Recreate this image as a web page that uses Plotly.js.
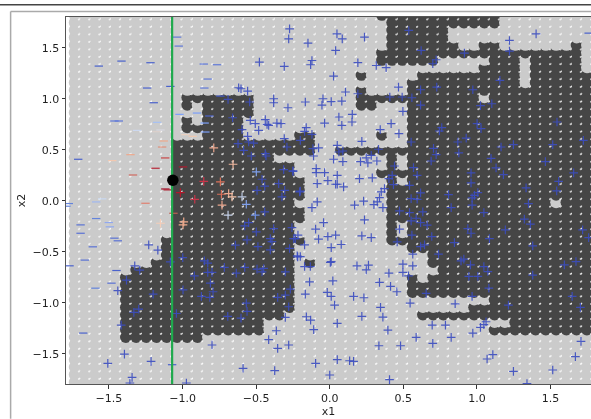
<!DOCTYPE html>
<html><head><meta charset="utf-8">
<script src="https://cdn.plot.ly/plotly-3.0.1.min.js"></script>
<style>html,body{margin:0;padding:0;background:#fff}#c{width:591px;height:419px;filter:blur(0.35px)}</style></head>
<body><div id="c"></div>
<script>
const gridX=[-1.733,-1.663,-1.594,-1.524,-1.455,-1.385,-1.315,-1.246,-1.176,-1.107,-1.037,-0.968,-0.898,-0.828,-0.759,-0.689,-0.620,-0.550,-0.480,-0.411,-0.341,-0.272,-0.202,-0.133,-0.063,0.007,0.076,0.146,0.216,0.285,0.355,0.424,0.494,0.564,0.633,0.703,0.772,0.842,0.912,0.981,1.051,1.120,1.190,1.260,1.329,1.399,1.468,1.538,1.608,1.677,1.747,1.816];
const gridY=[1.822,1.748,1.675,1.601,1.528,1.454,1.381,1.308,1.234,1.161,1.087,1.014,0.941,0.867,0.794,0.721,0.647,0.574,0.500,0.427,0.354,0.280,0.207,0.133,0.060,-0.013,-0.087,-0.160,-0.234,-0.307,-0.380,-0.454,-0.527,-0.600,-0.674,-0.747,-0.821,-0.894,-0.967,-1.041,-1.114,-1.188,-1.261,-1.334,-1.408,-1.481,-1.555,-1.628,-1.701,-1.775,-1.848];
// dark column runs for each gridY row
const darkRuns=[
[[30,41]],[[31,41]],[[31,36]],[[31,36]],[[31,37],[40,41],[49,49]],[[30,49]],[[30,35],[41,43],[45,49]],[[40,43],[45,49]],
[[28,28],[34,43],[45,51]],[[33,43],[45,51]],[[28,28],[33,51]],[[11,17],[28,39],[41,51]],[[11,11],[13,17],[28,29],[33,51]],
[[13,17],[33,51]],[[11,11],[13,16],[33,51]],[[11,16],[33,51]],[[13,16],[22,23],[30,30],[33,51]],[[10,23],[33,51]],[[10,23],[26,51]],
[[10,19],[31,31],[33,51]],[[10,21],[31,31],[33,51]],[[10,21],[30,51]],[[10,22],[31,31],[33,51]],[[10,22],[31,51]],[[10,22],[31,51]],
[[10,21],[31,46],[48,51]],[[10,22],[31,51]],[[10,22],[31,51]],[[10,21],[31,31],[33,51]],[[10,21],[31,31],[33,51]],[[9,22],[31,51]],
[[9,21],[33,51]],[[9,21],[35,51]],[[8,21],[23,23],[35,51]],[[6,21],[36,51]],[[5,21],[33,33],[35,51]],[[5,21],[33,51]],[[5,21],[33,51]],
[[5,21],[41,51]],[[5,21],[39,51]],[[5,20],[34,51]],[[5,18],[43,51]],[[5,18],[41,51]],[[5,12]]];
const dotX=[-1.705,-1.635,-1.566,-1.496,-1.427,-1.357,-1.287,-1.218,-1.148,-1.079,-1.009,-0.940,-0.870,-0.800,-0.731,-0.661,-0.592,-0.522,-0.452,-0.383,-0.313,-0.244,-0.174,-0.105,-0.035,0.035,0.104,0.174,0.244,0.313,0.383,0.452,0.522,0.592,0.661,0.731,0.800,0.870,0.940,1.009,1.079,1.148,1.218,1.288,1.357,1.427,1.496,1.566,1.636,1.705,1.775];
const dotY=[1.778,1.705,1.631,1.558,1.484,1.411,1.338,1.264,1.191,1.117,1.044,0.971,0.897,0.824,0.751,0.677,0.604,0.530,0.457,0.384,0.310,0.237,0.163,0.090,0.017,-0.057,-0.130,-0.204,-0.277,-0.350,-0.424,-0.497,-0.570,-0.644,-0.717,-0.791,-0.864,-0.937,-1.011,-1.084,-1.158,-1.231,-1.304,-1.378,-1.451,-1.525,-1.598,-1.671,-1.745];
const bluePlusX=[0.537,0.049,0.085,0.236,-0.148,1.402,1.221,0.04,1.221,0.621,0.915,-0.121,-0.13,0.191,0.316,0.383,0.7,0.723,0.026,1.156,0.467,0.617,0.727,0.972,0.107,0.191,0.408,0.492,0.558,-0.166,-0.046,-0.053,0.01,0.082,0.617,1.024,1.101,0.497,0.153,0.062,0.151,-0.035,0.082,0.417,0.343,0.47,1.544,1.001,1.028,0.761,0.745,-0.16,-0.171,-0.121,-0.2,0.218,0.927,0.553,0.87,1.723,1.515,1.248,1.164,0.705,0.051,-0.076,-0.114,0.331,0.877,0.723,0.062,0.089,-0.11,0.282,0.248,0.026,0.089,0.209,0.259,0.32,0.689,1.096,1.465,0.44,0.569,1.13,-0.092,-0.092,-0.035,-0.25,0.051,0.594,0.96,1.18,1.657,0.202,0.289,0.402,0.424,-0.013,-0.085,0.04,0.051,0.094,0.433,0.542,0.96,1.555,1.334,1.542,-0.2,0.372,0.35,0.617,0.807,1.006,0.983,0.967,0.553,0.594,0.338,-0.085,0.23,0.169,0.3,0.323,0.967,1.35,-0.121,0.361,0.825,
0.474,0.542,0.632,1.047,1.322,1.363,0.553,0.587,0.617,0.662,0.236,-0.042,-0.096,-0.013,0.04,0.218,0.282,0.474,0.558,0.693,0.938,0.96,1.193,1.085,1.718,1.759,-0.076,-0.234,-0.171,0.078,0.01,0.458,0.847,0.617,0.644,1.379,0.739,0.564,0.911,0.892,0.956,1.047,1.074,1.673,1.594,-0.221,-0.2,-0.171,-0.132,0.004,0.01,0.185,0.263,0.248,0.497,0.564,0.402,0.497,0.535,0.945,1.006,1.379,-0.137,0.021,0.338,0.413,0.456,1.081,-0.166,-0.017,0.01,0.162,0.232,0.655,0.967,1.647,0.033,0.345,0.546,0.852,1.214,1.703,-0.159,-0.13,0.218,0.361,0.051,-0.109,0.395,0.696,0.786,1.062,1.047,1.024,0.972,0.587,0.825,1.707,0.7,0.334,0.481,1.108,1.069,1.669,-0.096,0.051,0.135,0.162,1.248,1.515,0,0.406,1.34,
-0.273,-0.279,-0.478,-0.309,-0.619,-0.603,-0.558,-0.381,-0.381,-0.691,-0.544,-0.284,-0.66,-0.438,-0.54,-0.506,-0.426,-0.415,-0.359,-0.331,-0.596,-0.483,-0.558,-0.551,-0.517,-0.623,-0.309,-0.291,-0.585,-0.533,-0.438,-0.433,-0.313,-0.25,-0.46,-0.347,-0.442,-0.494,-0.306,-0.205,-0.325,
-0.442,-0.551,-0.578,-0.381,-0.257,-0.216,-0.499,-0.404,-0.393,-0.562,-0.245,-0.641,-0.488,-0.404,-0.273,-0.218,-1.23,-1.168,-0.999,-1.083,-0.852,-0.829,-1.325,-1.291,-0.716,-0.578,-0.494,-0.449,-0.46,-0.829,-0.8,-0.635,-0.302,-0.92,-1.381,-0.811,-1.44,-0.997,-0.793,-0.268,-0.302,-0.354,-1.2,-0.872,-0.815,-0.567,-0.279,-1.298,-1.331,-0.562,-1.042,-0.693,-0.603,-0.302,-1.417,-0.363,-0.415,-0.279,-0.8,-0.354,-1.395,-1.508,-1.214,-0.589,-0.374,-1.343,-1.358,-0.974];
const bluePlusY=[1.67,1.637,1.588,1.605,1.546,1.637,1.572,1.474,1.468,1.474,1.448,1.376,1.334,1.354,1.327,1.305,1.344,1.383,1.223,1.181,1.115,1.089,1.115,1.089,1.067,1.05,1.018,1.018,1.011,0.969,1.001,0.939,0.972,0.978,0.939,0.933,0.952,0.877,0.848,0.822,0.773,0.763,0.74,0.757,0.698,0.659,0.773,0.757,0.708,0.718,0.685,0.718,0.682,0.652,0.594,0.584,0.616,0.577,0.577,0.594,0.551,0.551,0.528,0.515,0.545,0.519,0.512,0.506,0.47,0.453,0.479,0.489,0.44,0.447,0.421,0.408,0.385,0.385,0.372,0.391,0.391,0.417,0.385,0.342,0.326,0.323,0.316,0.277,0.277,0.294,0.251,0.251,0.274,0.258,0.274,0.219,0.225,0.219,0.251,0.199,0.17,0.163,0.163,0.137,0.16,0.153,0.176,0.192,0.127,0.098,0.095,0.121,0.088,0.078,0.062,0.082,0.055,0.029,0.023,0.016,0.033,-0.01,-0.003,-0.042,-0.036,-0.01,-0.042,-0.026,-0.065,-0.065,-0.065,
-0.098,-0.114,-0.108,-0.114,-0.179,-0.228,-0.196,-0.17,-0.212,-0.238,-0.186,-0.212,-0.277,-0.349,-0.336,-0.343,-0.359,-0.277,-0.336,-0.349,-0.271,-0.317,-0.284,-0.369,-0.284,-0.359,-0.375,-0.369,-0.43,-0.427,-0.457,-0.401,-0.408,-0.447,-0.43,-0.44,-0.522,-0.522,-0.57,-0.587,-0.626,-0.643,-0.692,-0.594,-0.626,-0.538,-0.545,-0.643,-0.643,-0.603,-0.594,-0.636,-0.629,-0.675,-0.62,-0.636,-0.708,-0.701,-0.734,-0.74,-0.74,-0.727,-0.793,-0.783,-0.799,-0.838,-0.89,-0.855,-0.913,-0.897,-0.936,-0.936,-0.949,-0.907,-0.936,-0.936,-1.021,-1.044,-1.001,-1.008,-1.021,-1.044,-1.135,-1.168,-1.132,-1.138,-1.2,-1.262,-1.266,-1.217,-1.217,-1.184,-1.213,-1.24,-1.295,-1.337,-1.337,-1.376,-1.396,-1.419,-1.419,-1.507,-1.549,-1.526,-1.592,-1.556,-1.566,-1.572,-1.67,-1.657,-1.706,-1.751,-1.79,
1.686,1.588,1.36,1.318,1.109,1.099,1.076,1.001,0.962,0.995,0.969,0.913,0.815,0.796,0.789,0.757,0.75,0.74,0.763,0.757,0.698,0.691,0.633,0.577,0.567,0.561,0.61,0.528,0.496,0.44,0.463,0.44,0.307,0.29,0.212,0.17,0.144,0.104,0.104,0.088,0.039,
-0.108,-0.212,-0.245,-0.271,-0.261,-0.336,-0.303,-0.369,-0.398,-0.382,-0.369,-0.434,-0.447,-0.479,-0.466,-0.548,-0.43,-0.483,-0.555,-0.597,-0.587,-0.61,-0.636,-0.678,-0.652,-0.652,-0.669,-0.662,-0.695,-0.701,-0.701,-0.708,-0.695,-0.734,-0.776,-0.806,-0.88,-0.871,-0.89,-0.864,-0.923,-0.946,-0.913,-0.936,-0.946,-1.001,-1.037,-1.06,-1.093,-1.083,-1.103,-1.132,-1.148,-1.142,-1.217,-1.272,-1.36,-1.412,-1.412,-1.445,-1.501,-1.592,-1.572,-1.64,-1.663,-1.729,-1.784,-1.784];
const otherPlusX=[-0.788,-0.657,-0.856,-0.743,-1.015,-0.917,-0.736,-0.687,-0.664,-0.732,-0.499,-0.567,-0.596,-0.691,-0.506,-1.15,-0.992,-0.997];
const otherPlusY=[0.519,0.359,0.192,0.186,0.082,0.016,0.065,0.072,0.039,-0.042,0.284,-0.033,0.039,-0.14,-0.14,-0.219,-0.205,-0.235];
const otherPlusC=["#e9a58c","#f0b79e","#c8354a","#d9705a","#b2182b","#c8354a","#d9705a","#eda98e","#f0c0a8","#e9a58c","#7f9fea","#7f9fea","#b8c4dc","#c4d0e8","#6f8fe6","#f5cdb8","#eeaa8d","#eeaa8d"];
const minusX=[-1.037,-1.026,-1.569,-1.415,-1.218,-0.856,-0.766,-0.829,-0.852,-1.241,-1.083,-0.743,-1.196,-1.021,-0.902,-0.818,-1.463,-1.433,-1.173,-0.85,-1.309,-1.15,-1.177,-0.845,-0.981,-0.931,-1.128,-1.139,-1.709,-1.354,-1.478,-1.118,-1.184,-0.997,-1.337,-1.117,-1.101,-1.546,-1.587,-1.252,-1.773,-1.789,-1.062,-1.587,-1.693,-1.501,-1.494,-1.693,-1.463,-1.44,-1.61,-1.768,-1.664,-1.449,-1.483,-1.592,-1.675,-1.071,1.759];
const minusY=[1.605,1.517,1.321,1.37,1.354,1.341,1.334,1.194,1.106,1.106,1.122,1.027,0.962,0.848,0.861,0.832,0.783,0.783,0.77,0.763,0.691,0.695,0.678,0.675,0.649,0.633,0.587,0.528,0.408,0.453,0.395,0.421,0.32,0.333,0.254,0.117,0.108,0.02,-0.01,-0.023,-0.026,-0.052,-0.121,-0.173,-0.235,-0.212,-0.254,-0.317,-0.365,-0.391,-0.45,-0.636,-0.58,-0.682,-0.806,-0.855,-1.295,-1.605,1.644];
const minusC=["#5f78d8","#5f78d8","#4a62cc","#4a62cc","#4a62cc","#5f78d8","#5f78d8","#5f78d8","#5f78d8","#4a62cc","#4a62cc","#4058c8","#4a62cc","#7b9ff9","#7b9ff9","#4a62cc","#5f78d8","#5f78d8","#a5c0f5","#7b9ff9","#ccd8ef","#d8d8e0","#dcd0cc","#7b9ff9","#ecd0c0","#f0c8b0","#eeaa8d","#e0907a","#4a62cc","#eea88c","#f2c8b0","#c84848","#b82a3a","#b01a2e","#d06a60","#a0102a","#b02030","#c8d8f0","#a0b8f0","#e08070","#6484dc","#6484dc","#c06050","#6484dc","#5a72d4","#90a8f0","#90a8f0","#5a72d4","#5a72d4","#5a72d4","#5a72d4","#4a62cc","#5a72d4","#4a62cc","#5a72d4","#6484dc","#4a62cc","#4a62cc","#4a62cc"];
const greenX=[-1.071,-1.071], greenY=[-1.8,1.81];
const pointX=[-1.066], pointY=[0.202];
const xTitle="x1", yTitle="x2";

const cx=[],cy=[],cc=[];
for(let i=gridY.length-1;i>=0;i--){
  const runs=darkRuns[i]||[];
  for(let j=0;j<gridX.length;j++){
    cx.push(gridX[j]);cy.push(gridY[i]);
    cc.push(runs.some(r=>j>=r[0]&&j<=r[1])?"#464646":"#cbcbcb");
  }
}
const dx=[],dy=[];
dotY.forEach(y=>dotX.forEach(x=>{dx.push(x);dy.push(y);}));
const traces=[
 {x:cx,y:cy,type:"scatter",mode:"markers",hoverinfo:"skip",marker:{size:11.8,color:cc,line:{width:0}}},
 {x:dx,y:dy,type:"scatter",mode:"markers",hoverinfo:"skip",marker:{size:2,color:"rgba(255,255,255,0.7)",line:{width:0}}},
 {x:bluePlusX,y:bluePlusY,type:"scatter",mode:"markers",marker:{symbol:"cross-thin",size:6.2,line:{width:1.2,color:"rgba(59,76,192,0.9)"}}},
 {x:otherPlusX,y:otherPlusY,type:"scatter",mode:"markers",marker:{symbol:"cross-thin",size:6.2,color:otherPlusC,line:{width:1.2,color:otherPlusC}}},
 {x:minusX,y:minusY,type:"scatter",mode:"markers",marker:{symbol:"line-ew",size:6,color:minusC,line:{width:1.2,color:minusC}}},
 {x:greenX,y:greenY,type:"scatter",mode:"lines",line:{color:"#1faa4d",width:2.2}},
 {x:pointX,y:pointY,type:"scatter",mode:"markers",marker:{size:11.5,color:"#000"}}
];
const font={family:"DejaVu Sans",size:11,color:"#1f1f1f"};
const axis={zeroline:false,showgrid:false,showline:true,linecolor:"#555",linewidth:1,ticks:"outside",ticklen:3.5,tickwidth:1,tickcolor:"#333",dtick:0.5,tick0:0,tickformat:".1f",tickfont:font,automargin:false};
const layout={width:591,height:419,showlegend:false,paper_bgcolor:"#fff",plot_bgcolor:"#fff",
 margin:{l:65.5,r:0,t:16.5,b:35,pad:0},font:font,
 xaxis:Object.assign({},axis,{range:[-1.792,1.775],mirror:true,title:{text:xTitle,font:font,standoff:1}}),
 yaxis:Object.assign({},axis,{range:[-1.794,1.802],title:{text:yTitle,font:font,standoff:4}}),
 shapes:[
  {type:"line",xref:"paper",yref:"paper",x0:-0.13,x1:1,y0:1.0335,y1:1.0335,line:{color:"#444",width:1.6}},
  {type:"line",xref:"paper",yref:"paper",x0:-0.1055,x1:1,y0:1.015,y1:1.015,line:{color:"#aaa",width:1.5}},
  {type:"line",xref:"paper",yref:"paper",x0:-0.1055,x1:-0.1055,y0:-0.095,y1:1.015,line:{color:"#aaa",width:1.5}}
 ]};
Plotly.newPlot("c",traces,layout,{displayModeBar:false,staticPlot:true});
</script></body></html>
